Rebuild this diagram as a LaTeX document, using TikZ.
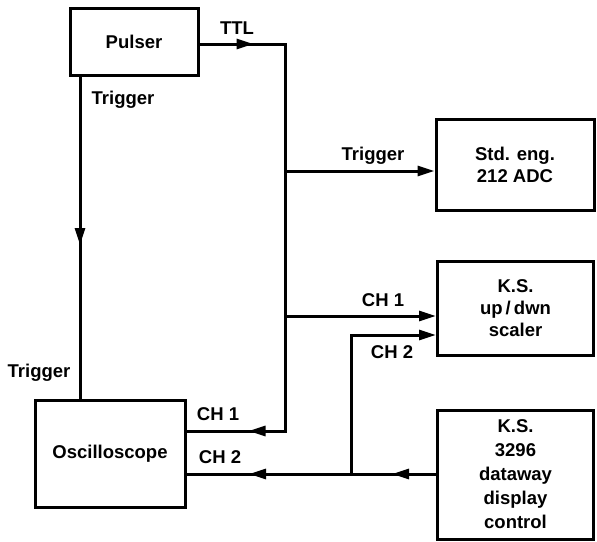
\documentclass[tikz,border=0pt]{standalone}
\usepackage{fontspec}
\setmainfont{Liberation Sans}
\usetikzlibrary{arrows.meta,decorations.markings}
\begin{document}
\begin{tikzpicture}[x=1pt,y=-1pt,
  box/.style={draw,line width=3pt,align=center,inner sep=0pt,
    font=\bfseries\fontsize{18.5}{22}\selectfont},
  lbl/.style={inner sep=0pt,font=\bfseries\fontsize{18.5}{22}\selectfont},
  wire/.style={line width=3pt},
  tip/.style={-{Triangle[length=17pt 0 0,width=10pt 0 0]}},
  midarrow/.style={postaction={decorate},decoration={markings,
    mark=at position #1 with {\arrow{Triangle[length=17pt 0 0,width=10pt 0 0]}}}},
  midarrowtwo/.style n args={2}{postaction={decorate},decoration={markings,
    mark=at position #1 with {\arrow{Triangle[length=17pt 0 0,width=10pt 0 0]}},
    mark=at position #2 with {\arrow{Triangle[length=17pt 0 0,width=10pt 0 0]}}}}
]
\useasboundingbox (0,0) rectangle (597,541);
% boxes
\node[box,minimum width=128pt,minimum height=67pt] (pulser) at (134,41.5) {Pulser};
\node[box,minimum width=150pt,minimum height=107pt] (osc) at (110,453.5) {Oscilloscope};
\node[box,minimum width=158pt,minimum height=91pt] (adc) at (515,164.5) {Std. eng.\\212 ADC};
\node[box,minimum width=156pt,minimum height=94pt] (scaler) at (515.5,308) {K.S.\\up\,/\,dwn\\scaler};
\node[box,minimum width=156pt,minimum height=129pt,
  font=\bfseries\fontsize{18.5}{24}\selectfont] (dw) at (515.5,474.5) {K.S.\\3296\\dataway\\display\\control};
% coordinates
\coordinate (bustop) at (285,44);
\coordinate (busbot) at (285,431);
\coordinate (busadc) at (285,171);
\coordinate (busch1) at (285,316);
\coordinate (ch2top) at (351,335);
\coordinate (ch2bot) at (351,474);
\coordinate (trigtop) at (80,75);
% wires
\draw[wire,midarrowtwo={54pt}{509pt}] (pulser.east |- bustop) -- (bustop) -- (busbot) -- (osc.east |- busbot);
\draw[wire,midarrow={170pt}] (trigtop) -- (trigtop |- osc.north);
\draw[wire,tip] (busadc) -- (adc.west |- busadc);
\draw[wire,tip] (busch1) -- (scaler.west |- busch1);
\draw[wire,midarrowtwo={44pt}{187pt}] (dw.west |- ch2bot) -- (osc.east |- ch2bot);
\draw[wire,tip] (ch2bot) -- (ch2top) -- (scaler.west |- ch2top);
% labels
\node[lbl] (lttl) at (237,28) {TTL};
\node[lbl] (ltrig1) at (123,100) {Trigger};
\node[lbl] (ltrig2) at (39,373) {Trigger};
\node[lbl] (ltrig3) at (373,156) {Trigger};
\node[lbl] (lch1s) at (383,300) {CH 1};
\node[lbl] (lch2s) at (392,352) {CH 2};
\node[lbl] (lch1o) at (218,414) {CH 1};
\node[lbl] (lch2o) at (220,457) {CH 2};
\end{tikzpicture}
\end{document}
